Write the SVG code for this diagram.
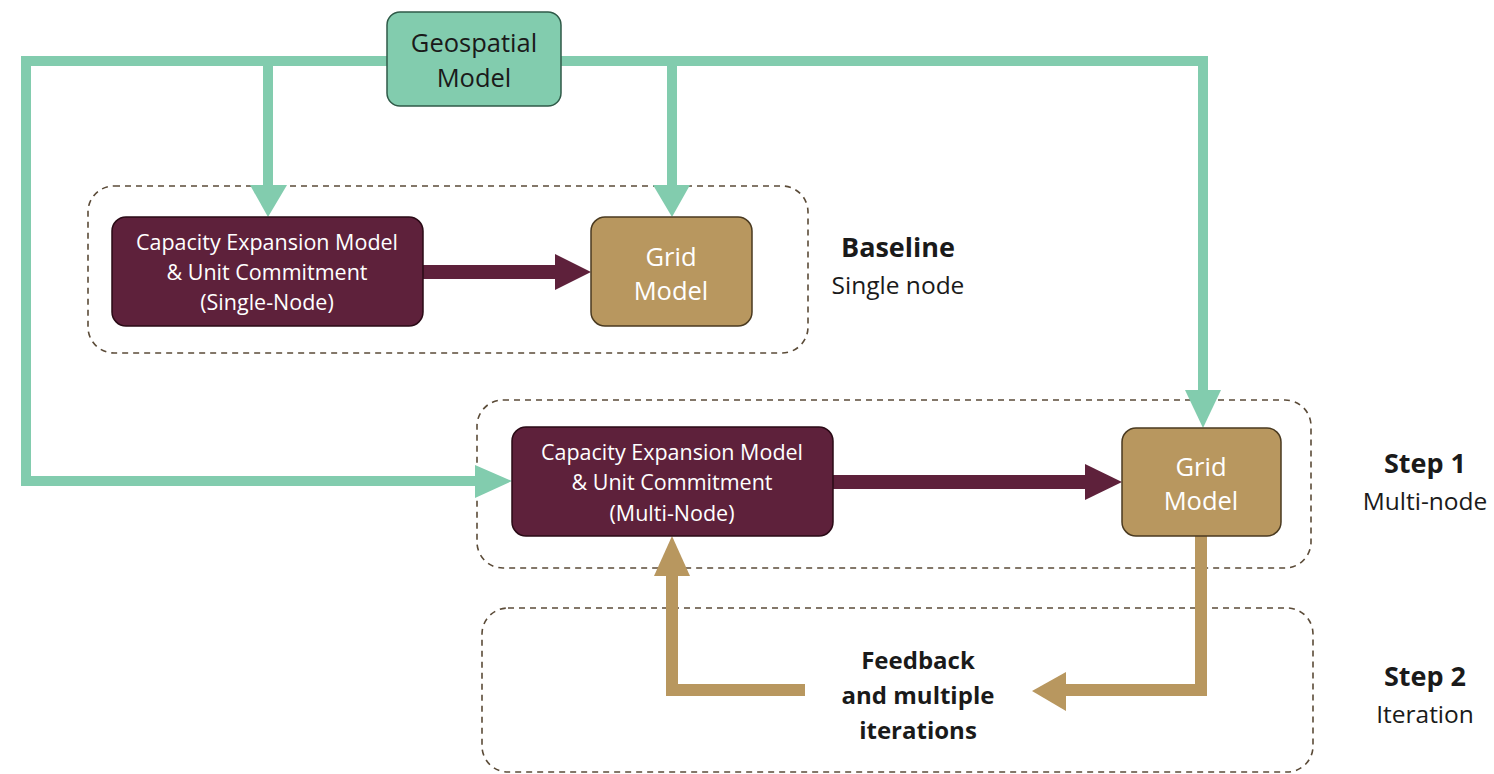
<svg xmlns="http://www.w3.org/2000/svg" width="1494" height="774" viewBox="0 0 1494 774">
  <style>
    .frame { fill: none; stroke: #5b4b38; stroke-width: 1.6; stroke-dasharray: 6 5; }
    .geo { fill: #82ccae; stroke: #2f5a48; stroke-width: 1.5; }
    .cem { fill: #5e213b; stroke: #2a0a16; stroke-width: 1.5; }
    .grid { fill: #b8975f; stroke: #4a3a20; stroke-width: 1.5; }
    .t { font-family: "Open Sans", "Liberation Sans", sans-serif; text-anchor: middle; }
    .white { fill: #ffffff; }
    .dark { fill: #1a1a1a; }
    .bold { font-weight: bold; }
    .green { fill: none; stroke: #82ccae; stroke-width: 10; }
    .tan { fill: none; stroke: #b8975f; stroke-width: 12; }
  </style>

  <!-- dashed stage frames -->
  <g id="frames">
    <rect class="frame" x="88" y="186" width="720" height="167" rx="26"/>
    <rect class="frame" x="477" y="400" width="834" height="168" rx="26"/>
    <rect class="frame" x="482" y="608" width="831" height="164" rx="26"/>
  </g>

  <!-- connectors -->
  <g id="connectors">
    <!-- geospatial distribution lines -->
    <path class="green" d="M478,481 H26 V61 H1203 V392"/>
    <path class="green" d="M268,61 V187"/>
    <path class="green" d="M672,61 V187"/>
    <polygon fill="#82ccae" points="250,185 287,185 268,217"/>
    <polygon fill="#82ccae" points="653,185 690,185 672,217"/>
    <polygon fill="#82ccae" points="1185,390 1221,390 1203,428"/>
    <polygon fill="#82ccae" points="475,465 475,498 512,481"/>
    <!-- model to grid arrows -->
    <rect fill="#5e213b" x="423" y="265" width="134" height="14"/>
    <polygon fill="#5e213b" points="555,254 555,290 591,272"/>
    <rect fill="#5e213b" x="833" y="475" width="254" height="14"/>
    <polygon fill="#5e213b" points="1085,464 1085,500 1122,482"/>
    <!-- feedback loop -->
    <path class="tan" d="M1201,536 V690 H1062"/>
    <polygon fill="#b8975f" points="1066,672 1066,711 1032,691"/>
    <path class="tan" d="M805,690 H672 V574"/>
    <polygon fill="#b8975f" points="654,576 690,576 672,536"/>
  </g>

  <g id="geospatial">
    <rect class="geo" x="387" y="12" width="174" height="94" rx="13"/>
    <text class="t dark" x="474" y="52" font-size="25.5">Geospatial</text>
    <text class="t dark" x="474" y="87" font-size="25.5">Model</text>
  </g>

  <g id="cem-single">
    <rect class="cem" x="112" y="217" width="311" height="109" rx="14"/>
    <text class="t white" x="267" y="250" font-size="21.5">Capacity Expansion Model</text>
    <text class="t white" x="267" y="280" font-size="21.5">&amp; Unit Commitment</text>
    <text class="t white" x="267" y="310" font-size="21.5">(Single-Node)</text>
  </g>

  <g id="grid-baseline">
    <rect class="grid" x="591" y="217" width="161" height="109" rx="14"/>
    <text class="t white" x="671" y="266" font-size="25.5">Grid</text>
    <text class="t white" x="671" y="300" font-size="25.5">Model</text>
  </g>

  <g id="cem-multi">
    <rect class="cem" x="512" y="427" width="321" height="109" rx="14"/>
    <text class="t white" x="672" y="460" font-size="21.5">Capacity Expansion Model</text>
    <text class="t white" x="672" y="490" font-size="21.5">&amp; Unit Commitment</text>
    <text class="t white" x="672" y="521" font-size="21.5">(Multi-Node)</text>
  </g>

  <g id="grid-step1">
    <rect class="grid" x="1122" y="428" width="159" height="108" rx="14"/>
    <text class="t white" x="1201" y="476" font-size="25.5">Grid</text>
    <text class="t white" x="1201" y="510" font-size="25.5">Model</text>
  </g>

  <g id="labels">
    <text class="t dark bold" x="898" y="257" font-size="27">Baseline</text>
    <text class="t dark" x="898" y="294" font-size="24.5">Single node</text>
    <text class="t dark bold" x="1425" y="473" font-size="27">Step 1</text>
    <text class="t dark" x="1425" y="510" font-size="24.5">Multi-node</text>
    <text class="t dark bold" x="1425" y="686" font-size="27">Step 2</text>
    <text class="t dark" x="1425" y="723" font-size="24.5">Iteration</text>
    <text class="t dark bold" x="918" y="669" font-size="24">Feedback</text>
    <text class="t dark bold" x="918" y="704" font-size="24">and multiple</text>
    <text class="t dark bold" x="918" y="739" font-size="24">iterations</text>
  </g>
</svg>
